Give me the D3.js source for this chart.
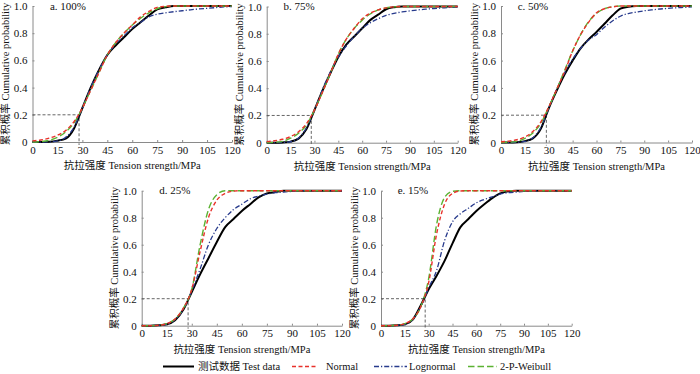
<!DOCTYPE html>
<html>
<head>
<meta charset="utf-8">
<script src="https://cdn.jsdelivr.net/npm/d3@7"></script>
<style>
  body { margin: 0; background: #fff; }
  text { font-family: "Liberation Serif", "Noto Sans CJK SC", serif; fill: #111; }
</style>
</head>
<body>
<svg id="chart" width="700" height="374"></svg>
<script>
// tension strength grid (MPa) the curves were read at
const strength = [0,5,10,15,20,25,30,35,40,45,50,55,60,65,70,75,80,85,90,95,100,105,110,115,120];
const xTicks = [0,15,30,45,60,75,90,105,120];
const yTicks = [0,0.2,0.4,0.6,0.8,1.0];
const panelLabels = ["a. 100%", "b. 75%", "c. 50%", "d. 25%", "e. 15%"];
const refStrength = [28, 28, 28.5, 27.8, 27.8];
const refProb = 0.2;
const seriesNames = ["测试数据 Test data", "Normal", "Lognormal", "2-P-Weibull"];

// a. 100%
const test100 = [0,0,0.002,0.01,0.025,0.10,0.25,0.40,0.53,0.64,0.71,0.77,0.83,0.88,0.93,0.975,0.99,1,1,1,1,1,1,1,1];
const normal100 = [0.008,0.015,0.028,0.05,0.085,0.15,0.25,0.38,0.51,0.64,0.73,0.80,0.86,0.92,0.96,0.99,0.997,1,1,1,1,1,1,1,1];
const lognormal100 = [0,0,0.001,0.008,0.035,0.11,0.25,0.40,0.53,0.64,0.72,0.78,0.84,0.88,0.92,0.94,0.95,0.958,0.965,0.972,0.978,0.983,0.988,0.993,0.996];
const weibull100 = [0,0.003,0.012,0.035,0.075,0.14,0.25,0.38,0.51,0.64,0.73,0.80,0.86,0.91,0.95,0.98,0.995,1,1,1,1,1,1,1,1];
// b. 75%
const test75 = [0,0,0.002,0.008,0.03,0.10,0.24,0.38,0.51,0.63,0.72,0.78,0.84,0.90,0.94,0.98,0.995,1,1,1,1,1,1,1,1];
const normal75 = [0.008,0.014,0.025,0.045,0.08,0.14,0.24,0.37,0.51,0.65,0.76,0.84,0.91,0.95,0.975,0.99,0.997,1,1,1,1,1,1,1,1];
const lognormal75 = [0,0,0.001,0.007,0.035,0.11,0.24,0.39,0.52,0.63,0.71,0.78,0.84,0.88,0.91,0.935,0.95,0.96,0.968,0.975,0.98,0.985,0.989,0.993,0.996];
const weibull75 = [0,0.003,0.01,0.033,0.07,0.13,0.24,0.37,0.51,0.65,0.76,0.84,0.90,0.945,0.975,0.99,0.997,1,1,1,1,1,1,1,1];
// c. 50%
const test50 = [0,0,0.002,0.01,0.03,0.10,0.25,0.38,0.50,0.60,0.69,0.755,0.81,0.87,0.93,0.98,0.995,1,1,1,1,1,1,1,1];
const normal50 = [0.005,0.01,0.02,0.04,0.08,0.15,0.26,0.39,0.52,0.67,0.79,0.88,0.95,0.98,0.993,1,1,1,1,1,1,1,1,1,1];
const lognormal50 = [0,0,0.001,0.008,0.035,0.11,0.25,0.39,0.51,0.61,0.69,0.75,0.79,0.845,0.89,0.925,0.945,0.955,0.965,0.972,0.978,0.983,0.987,0.99,0.993];
const weibull50 = [0,0.002,0.008,0.03,0.07,0.14,0.26,0.39,0.53,0.67,0.79,0.885,0.945,0.98,0.995,1,1,1,1,1,1,1,1,1,1];
// d. 25%
const test25 = [0,0,0.003,0.01,0.04,0.12,0.25,0.38,0.50,0.62,0.73,0.79,0.85,0.90,0.95,0.98,0.99,1,1,1,1,1,1,1,1];
const normal25 = [0,0,0.003,0.015,0.05,0.13,0.27,0.55,0.80,0.93,0.98,0.997,1,1,1,1,1,1,1,1,1,1,1,1,1];
const lognormal25 = [0,0,0.002,0.01,0.045,0.12,0.26,0.42,0.60,0.72,0.80,0.86,0.90,0.94,0.96,0.975,0.985,0.99,0.995,1,1,1,1,1,1];
const weibull25 = [0,0,0.003,0.015,0.05,0.13,0.27,0.60,0.86,0.97,1,1,1,1,1,1,1,1,1,1,1,1,1,1,1];
// e. 15%
const test15 = [0,0,0.003,0.01,0.045,0.15,0.27,0.37,0.48,0.61,0.73,0.79,0.85,0.90,0.945,0.98,0.995,1,1,1,1,1,1,1,1];
const normal15 = [0,0,0.003,0.015,0.05,0.14,0.32,0.68,0.90,0.98,0.998,1,1,1,1,1,1,1,1,1,1,1,1,1,1];
const lognormal15 = [0,0,0.002,0.01,0.045,0.14,0.28,0.41,0.63,0.77,0.83,0.87,0.91,0.935,0.955,0.975,0.985,0.99,0.995,0.997,1,1,1,1,1];
const weibull15 = [0,0,0.003,0.015,0.05,0.14,0.35,0.75,0.95,0.995,1,1,1,1,1,1,1,1,1,1,1,1,1,1,1];

const panelSeries = [
  [test100, normal100, lognormal100, weibull100],
  [test75, normal75, lognormal75, weibull75],
  [test50, normal50, lognormal50, weibull50],
  [test25, normal25, lognormal25, weibull25],
  [test15, normal15, lognormal15, weibull15]
];

// plot boxes: left, right, top (p=1), bottom (p=0)
const boxes = [
  { l: 32.5, r: 232, t: 6, b: 142 },
  { l: 266.7, r: 457.7, t: 6.5, b: 142.7 },
  { l: 501, r: 692, t: 6, b: 142.5 },
  { l: 141.7, r: 342, t: 190.7, b: 325.7 },
  { l: 381, r: 571.7, t: 190.7, b: 325.7 }
];

// style per series: test, normal, lognormal, weibull
const styles = [
  { color: "#000", width: 2, dash: null },
  { color: "#e8312b", width: 1.4, dash: "4,2.5" },
  { color: "#273a8c", width: 1.3, dash: "5,2,1.2,2" },
  { color: "#5bb232", width: 1.4, dash: "6.5,3" }
];
const drawOrder = [0, 2, 3, 1];

const svg = d3.select("#chart");

function drawPanel(i) {
  const box = boxes[i];
  const x = d3.scaleLinear().domain([0, 120]).range([box.l, box.r]);
  const y = d3.scaleLinear().domain([0, 1]).range([box.b, box.t]);
  const g = svg.append("g");

  // axes
  const xAxis = g.append("g")
    .attr("transform", `translate(0,${box.b})`)
    .call(d3.axisBottom(x).tickValues(xTicks).tickSizeInner(-2).tickSizeOuter(0).tickPadding(4));
  const yAxis = g.append("g")
    .attr("transform", `translate(${box.l},0)`)
    .call(d3.axisLeft(y).tickValues(yTicks).tickSizeInner(-2).tickSizeOuter(0).tickPadding(5)
      .tickFormat(d => d === 0 ? "0" : d.toFixed(1)));
  [xAxis, yAxis].forEach(a => {
    a.select(".domain").attr("stroke", "#8a8a8a").attr("stroke-width", 1);
    a.selectAll(".tick line").attr("stroke", "#8a8a8a");
    a.selectAll(".tick text").attr("font-size", 11).attr("fill", "#111")
      .style("font-family", '"Liberation Serif", serif');
  });

  // reference lines at p = 0.2
  const rx = refStrength[i];
  g.append("path")
    .attr("d", `M${x(0)},${y(refProb)}H${x(rx)}V${y(0) + 3}`)
    .attr("fill", "none")
    .attr("stroke", "#555")
    .attr("stroke-width", 0.9)
    .attr("stroke-dasharray", "3,2");

  // curves
  const line = d3.line()
    .x((d, k) => x(strength[k]))
    .y(d => y(d))
    .curve(d3.curveMonotoneX);
  drawOrder.forEach(s => {
    const st = styles[s];
    g.append("path")
      .attr("d", line(panelSeries[i][s]))
      .attr("fill", "none")
      .attr("stroke", st.color)
      .attr("stroke-width", st.width)
      .attr("stroke-dasharray", st.dash);
  });

  // labels
  g.append("text")
    .attr("x", x(10.5))
    .attr("y", box.t + 3.5)
    .attr("font-size", 11)
    .text(panelLabels[i]);

  g.append("text")
    .attr("x", (box.l + box.r) / 2)
    .attr("y", box.b + 27)
    .attr("text-anchor", "middle")
    .attr("font-size", 10.5)
    .text("抗拉强度 Tension strength/MPa");

  g.append("text")
    .attr("transform", `translate(${box.l - 23.5},${(box.t + box.b) / 2}) rotate(-90)`)
    .attr("text-anchor", "middle")
    .attr("font-size", 10.5)
    .text("累积概率 Cumulative probability");
}

d3.range(5).forEach(drawPanel);

// legend
const legendY = 366.5;
const legendItems = [
  { x0: 163, x1: 194, tx: 198 },
  { x0: 292, x1: 316, tx: 326 },
  { x0: 374, x1: 407, tx: 409 },
  { x0: 468, x1: 497, tx: 500 }
];
const legend = svg.append("g");
legendItems.forEach((it, s) => {
  const st = styles[s];
  legend.append("line")
    .attr("x1", it.x0).attr("x2", it.x1)
    .attr("y1", legendY).attr("y2", legendY)
    .attr("stroke", st.color)
    .attr("stroke-width", st.width)
    .attr("stroke-dasharray", st.dash);
  legend.append("text")
    .attr("x", it.tx)
    .attr("y", legendY + 3.5)
    .attr("font-size", 10.5)
    .text(seriesNames[s]);
});
</script>
</body>
</html>
